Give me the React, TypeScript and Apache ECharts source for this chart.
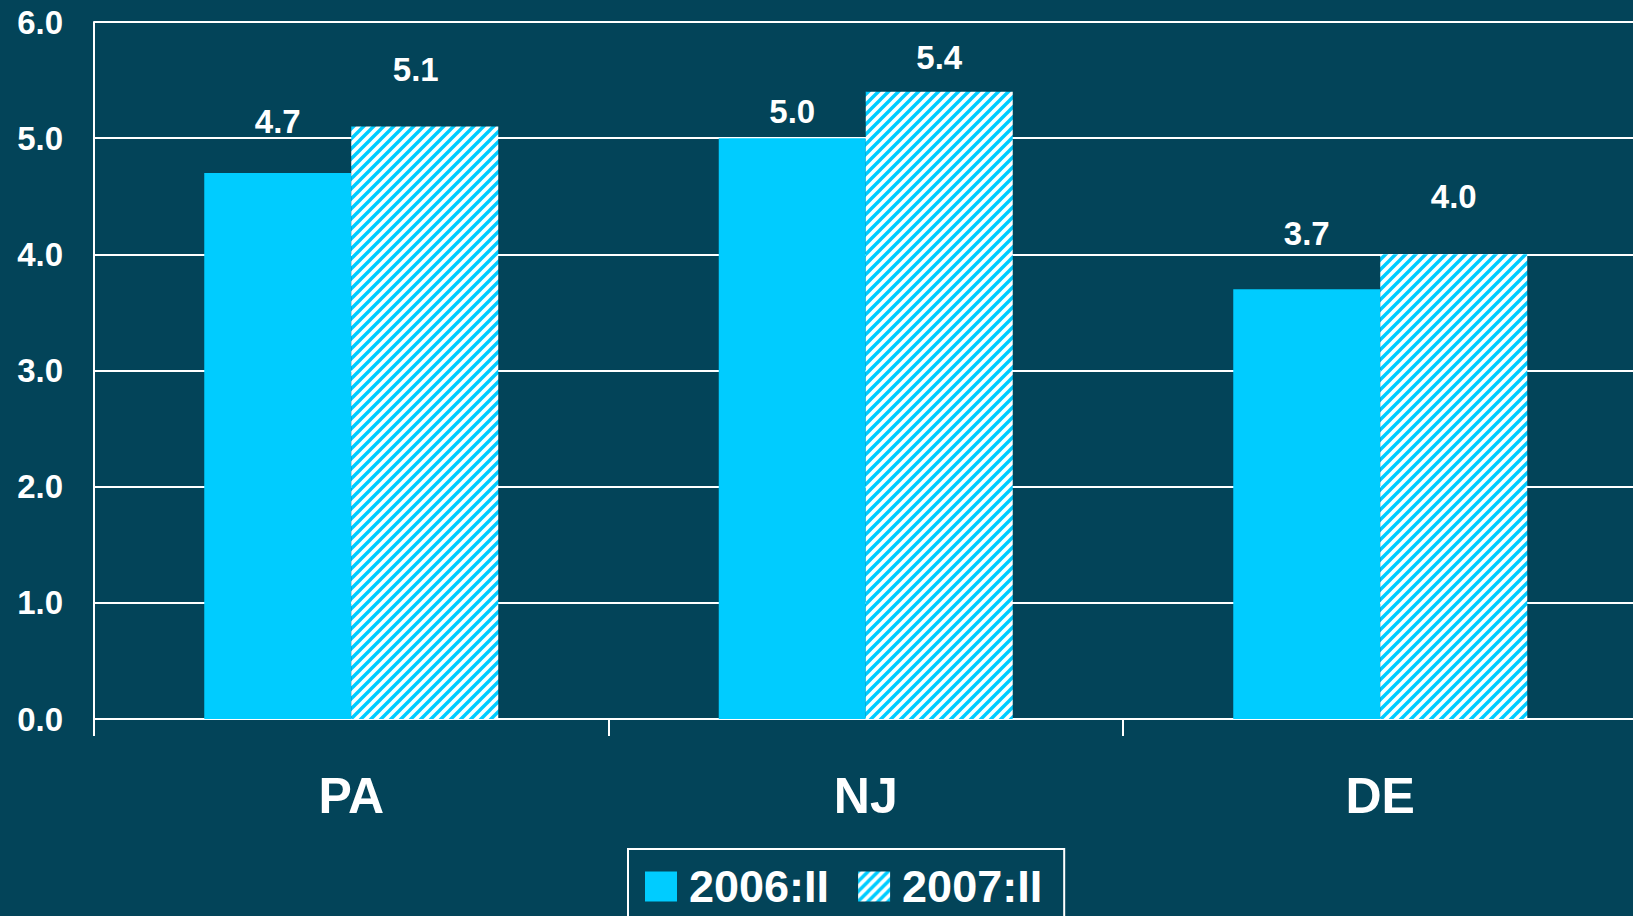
import React, { useEffect, useRef } from "react";
import * as echarts from "echarts";

// Quarterly values by state
const states = ["PA", "NJ", "DE"];
const seriesNames = ["2006:II", "2007:II"];
const values2006 = [4.7, 5.0, 3.7];
const values2007 = [5.1, 5.4, 4.0];
const yTicks = [0, 1, 2, 3, 4, 5, 6];

const BG = "#034459";
const CYAN = "#00CCFF";
const FONT = "'Liberation Sans', Arial, Helvetica, sans-serif";

// how far each value label sits above its bar
const labelLift = [
  [35, 10, 39],
  [41, 18, 41],
];
const labelShiftX = [
  [0, 0, 0],
  [-9, 0, 0],
];

// white tile with cyan "/" stripes for the hatched series
function makeHatch(): HTMLCanvasElement {
  const c = document.createElement("canvas");
  c.width = 10;
  c.height = 10;
  const ctx = c.getContext("2d")!;
  ctx.fillStyle = "#ffffff";
  ctx.fillRect(0, 0, 10, 10);
  ctx.strokeStyle = CYAN;
  ctx.lineWidth = 3.4;
  for (const k of [0, 10, 20]) {
    ctx.beginPath();
    ctx.moveTo(-2, k + 2);
    ctx.lineTo(k + 2, -2);
    ctx.stroke();
  }
  return c;
}

export default function App() {
  const ref = useRef<HTMLDivElement>(null);

  useEffect(() => {
    document.body.style.margin = "0";
    document.body.style.overflow = "hidden";
    document.documentElement.style.overflow = "hidden";
    document.body.style.background = BG;
    const chart = echarts.init(ref.current!, undefined, { renderer: "svg" });
    const hatch = { image: makeHatch(), repeat: "repeat" };

    const buildData = (vals: number[], s: number) =>
      vals.map((v, i) => ({
        value: v,
        label: { distance: labelLift[s][i], offset: [labelShiftX[s][i], 0] },
      }));

    const labelStyle = {
      show: true,
      position: "top",
      color: "#ffffff",
      fontFamily: FONT,
      fontWeight: "bold",
      fontSize: 33,
      formatter: (p: any) => Number(p.value).toFixed(1),
    };

    chart.setOption({
      animation: false,
      backgroundColor: BG,
      // plot area runs a few pixels past the right edge of the page
      grid: { left: 94, top: 22, right: 2.5, bottom: 197, containLabel: false },
      legend: {
        data: seriesNames,
        left: 628,
        top: 849,
        orient: "horizontal",
        icon: "rect",
        padding: [15, 22, 40, 17],
        borderColor: "#ffffff",
        borderWidth: 2,
        itemWidth: 32,
        itemHeight: 30,
        itemGap: 29,
        textStyle: {
          color: "#ffffff",
          fontFamily: FONT,
          fontWeight: "bold",
          fontSize: 45,
          padding: [0, 0, 0, 7],
        },
      },
      xAxis: {
        type: "category",
        data: states,
        axisLine: { show: true, lineStyle: { color: "#ffffff", width: 2 } },
        axisTick: { show: true, length: 17, lineStyle: { color: "#ffffff", width: 2 } },
        axisLabel: {
          color: "#ffffff",
          fontFamily: FONT,
          fontWeight: "bold",
          fontSize: 50,
          margin: 52,
        },
      },
      yAxis: {
        type: "value",
        min: yTicks[0],
        max: yTicks[yTicks.length - 1],
        interval: 1,
        axisLine: { show: true, lineStyle: { color: "#ffffff", width: 2 } },
        axisTick: { show: false },
        splitLine: { show: true, lineStyle: { color: "#ffffff", width: 2 } },
        axisLabel: {
          color: "#ffffff",
          fontFamily: FONT,
          fontWeight: "bold",
          fontSize: 33,
          margin: 31,
          formatter: (v: number) => v.toFixed(1),
        },
      },
      series: [
        {
          name: seriesNames[0],
          type: "bar",
          barWidth: 147,
          barGap: "0%",
          itemStyle: { color: CYAN },
          label: labelStyle,
          data: buildData(values2006, 0),
        },
        {
          name: seriesNames[1],
          type: "bar",
          barWidth: 147,
          barGap: "0%",
          itemStyle: { color: hatch },
          label: labelStyle,
          data: buildData(values2007, 1),
        },
      ],
    });

    return () => chart.dispose();
  }, []);

  return (
    <div
      ref={ref}
      style={{ position: "fixed", left: 0, top: 0, width: 1640, height: 916, background: BG }}
    />
  );
}
